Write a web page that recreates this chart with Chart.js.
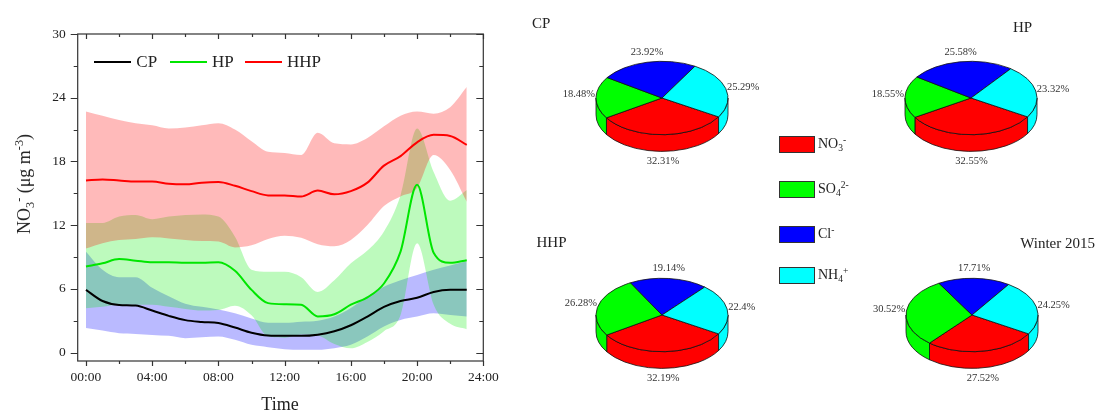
<!DOCTYPE html>
<html>
<head>
<meta charset="utf-8">
<script src="https://cdn.jsdelivr.net/npm/chart.js@4.4.1/dist/chart.umd.min.js"></script>
<style>
  html, body { margin: 0; padding: 0; background: #fff; }
  body { width: 1096px; height: 410px; position: relative; overflow: hidden;
         font-family: "Liberation Serif", "Times New Roman", serif; color: #222; }
  canvas { position: absolute; }
  .abs { position: absolute; white-space: nowrap; line-height: 1; }
  .sb { font-size: 68%; position: relative; top: 0.32em; }
  .sp { font-size: 68%; position: relative; top: -0.55em; }
  .lg-item { position: absolute; display: flex; align-items: center; font-size: 17px; }
  .lg-line { width: 37px; height: 2px; margin-right: 5px; }
  .ion-box { position: absolute; width: 34px; height: 15px; border: 1px solid #333; }
  .ion-txt { position: absolute; font-size: 14px; line-height: 1; white-space: nowrap; }
</style>
</head>
<body>
<canvas id="diurnal" width="520" height="410" style="left:0;top:0"></canvas>
<div id="ytitle" class="abs" style="left:23.5px;top:184px;font-size:18px;transform:translate(-50%,-50%) rotate(-90deg)">NO<span class="sb">3</span><span class="sp">-</span> (μg m<span class="sp">-3</span>)</div>
<div class="abs" style="left:280px;top:404px;font-size:18px;transform:translate(-50%,-50%)">Time</div>
<div id="lineLegend"></div>

<canvas id="pieCP" width="240" height="200" style="left:542px;top:-1.7px"></canvas>
<canvas id="pieHP" width="240" height="200" style="left:851px;top:-1.7px"></canvas>
<canvas id="pieHHP" width="240" height="200" style="left:542px;top:215px"></canvas>
<canvas id="pieW" width="240" height="200" style="left:852px;top:215px"></canvas>

<div class="abs" style="left:532px;top:22.7px;font-size:15px;transform:translateY(-50%)">CP</div>
<div class="abs" style="left:1013px;top:26.7px;font-size:15px;transform:translateY(-50%)">HP</div>
<div class="abs" style="left:536.5px;top:241.7px;font-size:15px;transform:translateY(-50%)">HHP</div>
<div class="abs" style="right:1px;top:243.3px;font-size:15px;transform:translateY(-50%)">Winter 2015</div>
<div id="ionLegend"></div>

<script>
// ---- diurnal NO3- concentrations (μg m-3), hourly ----
const hours = [0, 1, 2, 3, 4, 5, 6, 7, 8, 9, 10, 11, 12, 13, 14, 15, 16, 17, 18, 19, 20, 21, 22, 23];

const cpMean  = [5.9, 4.85, 4.48, 4.42, 3.95, 3.45, 3.05, 2.88, 2.78, 2.35, 1.86, 1.6, 1.57, 1.57, 1.68, 2.0, 2.57, 3.39, 4.3, 4.85, 5.15, 5.7, 5.9, 5.9];
const cpUpper = [9.5, 7.8, 7.1, 7.1, 6.1, 5.3, 4.6, 4.3, 4.05, 3.7, 3.2, 2.8, 2.8, 2.9, 3.0, 3.4, 4.2, 5.3, 6.2, 6.8, 7.3, 7.8, 8.2, 8.6];
const cpLower = [2.3, 2.07, 1.82, 1.75, 1.66, 1.57, 1.35, 1.44, 1.5, 1.19, 0.72, 0.5, 0.31, 0.25, 0.25, 0.4, 0.72, 1.5, 2.45, 3.07, 3.39, 3.7, 3.54, 3.39];

const hpMean  = [8.1, 8.4, 8.8, 8.65, 8.5, 8.5, 8.45, 8.45, 8.5, 7.7, 5.9, 4.65, 4.55, 4.5, 3.4, 3.6, 4.5, 5.2, 6.5, 9.5, 15.8, 9.4, 8.45, 8.7];
const hpUpper = [12.2, 12.2, 12.8, 12.95, 12.55, 12.8, 12.95, 13.0, 12.8, 10.9, 7.8, 7.6, 7.6, 7.1, 5.7, 6.8, 8.4, 9.6, 11.4, 14.8, 21.1, 17.0, 14.3, 15.3];
const hpLower = [4.17, 4.3, 4.5, 4.5, 4.5, 4.3, 4.1, 3.95, 4.0, 4.4, 3.5, 1.5, 1.4, 1.7, 1.6, 0.8, 0.4, 1.0, 2.0, 3.5, 10.3, 4.5, 2.7, 2.2];

const hhpMean  = [16.2, 16.3, 16.2, 16.1, 16.1, 15.9, 15.85, 16.0, 16.05, 15.7, 15.2, 14.8, 14.8, 14.7, 15.25, 14.9, 15.2, 16.0, 17.6, 18.5, 19.8, 20.5, 20.4, 19.55];
const hhpUpper = [22.7, 22.3, 21.9, 21.6, 21.4, 21.1, 21.2, 21.4, 21.6, 21.0, 19.9, 18.9, 18.8, 18.6, 20.7, 19.7, 19.6, 20.2, 21.3, 22.3, 22.7, 22.5, 23.1, 25.0];
const hhpLower = [9.8, 10.3, 10.6, 10.7, 10.85, 10.75, 10.6, 10.5, 10.45, 9.9, 10.1, 10.7, 11.0, 10.8, 10.2, 10.0, 10.6, 12.0, 13.8, 14.7, 15.5, 18.6, 17.2, 14.2];

const seriesNames = ['CP', 'HP', 'HHP'];
const xTickValues = [0, 2, 4, 6, 8, 10, 12, 14, 16, 18, 20, 22, 24];
const yTickValues = [0, 3, 6, 9, 12, 15, 18, 21, 24, 27, 30];

// ---- water-soluble ion fractions (%) ----
const ions = ['NO3-', 'SO42-', 'Cl-', 'NH4+'];
const ionMarkup = ['NO<span class="sb">3</span><span class="sp">-</span>',
                   'SO<span class="sb">4</span><span class="sp">2-</span>',
                   'Cl<span class="sp">-</span>',
                   'NH<span class="sb">4</span><span class="sp">+</span>'];
const cpShare     = [32.31, 18.48, 23.92, 25.29];
const hpShare     = [32.55, 18.55, 25.58, 23.32];
const hhpShare    = [32.19, 26.28, 19.14, 22.4];
const winterShare = [27.52, 30.52, 17.71, 24.25];

// ---- styling ----
const lineColors = ['#000000', '#00e600', '#ff0000'];
const bandColors = ['rgba(0,0,255,0.27)', 'rgba(0,235,0,0.26)', 'rgba(255,0,0,0.27)'];
const ionColors = ['#ff0000', '#00ff00', '#0000ff', '#00ffff'];
const SERIF = '"Liberation Serif", "Times New Roman", serif';

const pts = arr => hours.map((h, i) => ({ x: h, y: arr[i] }));

function meanSet(i, arr) {
  return { label: seriesNames[i], data: pts(arr), borderColor: lineColors[i], borderWidth: 2,
           pointRadius: 0, fill: false, cubicInterpolationMode: 'monotone', order: 0 };
}
function bandSet(arr, color, target, order) {
  return { label: '', data: pts(arr), borderColor: 'rgba(0,0,0,0)', borderWidth: 0, pointRadius: 0,
           backgroundColor: color, fill: target === null ? false : target,
           cubicInterpolationMode: 'monotone', order: order };
}

// frame and tick marks around the plot area
const frameTicks = {
  id: 'frameTicks',
  afterDatasetsDraw(chart) {
    const { ctx, chartArea: a, scales: { x, y } } = chart;
    ctx.save();
    ctx.strokeStyle = '#333';
    ctx.lineWidth = 1.2;
    ctx.strokeRect(a.left, a.top, a.right - a.left, a.bottom - a.top);
    ctx.beginPath();
    x.ticks.forEach(t => {
      const px = Math.round(x.getPixelForValue(t.value)) + 0.5;
      const L = t.value % 4 === 0 ? 5 : 3;
      ctx.moveTo(px, a.bottom); ctx.lineTo(px, a.bottom + L);
      ctx.moveTo(px, a.top); ctx.lineTo(px, a.top + L);
    });
    y.ticks.forEach(t => {
      const py = Math.round(y.getPixelForValue(t.value)) + 0.5;
      const L = t.value % 6 === 0 ? 7 : 4;
      ctx.moveTo(a.left, py); ctx.lineTo(a.left - L, py);
      ctx.moveTo(a.right, py); ctx.lineTo(a.right - L, py);
    });
    ctx.stroke();
    ctx.restore();
  }
};

new Chart(document.getElementById('diurnal'), {
  type: 'line',
  data: {
    datasets: [
      meanSet(0, cpMean), meanSet(1, hpMean), meanSet(2, hhpMean),
      bandSet(hhpUpper, bandColors[2], 4, 1), bandSet(hhpLower, bandColors[2], null, 1),
      bandSet(hpUpper, bandColors[1], 6, 2), bandSet(hpLower, bandColors[1], null, 2),
      bandSet(cpUpper, bandColors[0], 8, 3), bandSet(cpLower, bandColors[0], null, 3)
    ]
  },
  options: {
    responsive: false, animation: false, devicePixelRatio: 1,
    layout: { padding: { left: 0, top: 34, right: 36.7, bottom: 0 } },
    plugins: { legend: { display: false }, tooltip: { enabled: false } },
    scales: {
      x: {
        type: 'linear', min: -0.5, max: 24,
        afterBuildTicks: s => { s.ticks = xTickValues.map(v => ({ value: v })); },
        afterFit: s => { s.height = 49; },
        grid: { display: false, drawTicks: false }, border: { display: false },
        ticks: { autoSkip: false, maxRotation: 0, padding: 8, color: '#222',
                 font: { family: SERIF, size: 13.5 },
                 callback: v => v % 4 === 0 ? String(v).padStart(2, '0') + ':00' : '' }
      },
      y: {
        type: 'linear', min: -0.8, max: 30,
        afterBuildTicks: s => { s.ticks = yTickValues.map(v => ({ value: v })); },
        afterFit: s => { s.width = 77.7; },
        grid: { display: false, drawTicks: false }, border: { display: false },
        ticks: { autoSkip: false, padding: 12, color: '#222',
                 font: { family: SERIF, size: 13.5 },
                 callback: v => v % 6 === 0 ? String(v) : '' }
      }
    }
  },
  plugins: [frameTicks]
});

// legend for the three periods, inside the plot area
(function () {
  const box = document.getElementById('lineLegend');
  const lefts = [94.3, 170, 245];
  seriesNames.forEach((n, i) => {
    const d = document.createElement('div');
    d.className = 'lg-item';
    d.style.left = lefts[i] + 'px';
    d.style.top = '61.5px';
    d.style.transform = 'translateY(-50%)';
    d.innerHTML = '<span class="lg-line" style="background:' + lineColors[i] + '"></span><span>' + n + '</span>';
    box.appendChild(d);
  });
})();

// legend for the ion colours
(function () {
  const box = document.getElementById('ionLegend');
  const centers = [144, 189, 234, 275];
  ions.forEach((n, i) => {
    const b = document.createElement('div');
    b.className = 'ion-box';
    b.style.left = '779px';
    b.style.top = (centers[i] - 8.5) + 'px';
    b.style.background = ionColors[i];
    box.appendChild(b);
    const t = document.createElement('div');
    t.className = 'ion-txt';
    t.style.left = '818px';
    t.style.top = centers[i] + 'px';
    t.style.transform = 'translateY(-50%)';
    t.innerHTML = ionMarkup[i];
    box.appendChild(t);
  });
})();

// pseudo-3D pie: ellipse top face, extruded front wall, percentage labels
const pie3d = {
  id: 'pie3d',
  beforeDatasetsDraw(chart) {
    const ctx = chart.ctx;
    const arcs = chart.getDatasetMeta(0).data;
    const values = chart.data.datasets[0].data;
    const k = 0.556, depth = 16.7;
    ctx.save();
    ctx.lineWidth = 0.8;
    ctx.strokeStyle = '#111';
    ctx.lineJoin = 'round';
    // front walls
    arcs.forEach(arc => {
      const { x, y, startAngle: s0, endAngle: e0, outerRadius: r } = arc;
      const rx = r, ry = r * k;
      for (let n = -1; n <= 2; n++) {
        const lo = Math.max(s0, n * 2 * Math.PI);
        const hi = Math.min(e0, n * 2 * Math.PI + Math.PI);
        if (hi - lo > 1e-6) {
          ctx.beginPath();
          ctx.ellipse(x, y, rx, ry, 0, lo, hi);
          ctx.lineTo(x + rx * Math.cos(hi), y + ry * Math.sin(hi) + depth);
          ctx.ellipse(x, y + depth, rx, ry, 0, hi, lo, true);
          ctx.closePath();
          ctx.fillStyle = arc.options.backgroundColor;
          ctx.fill();
          ctx.stroke();
        }
      }
    });
    // top faces
    arcs.forEach(arc => {
      const { x, y, startAngle: s0, endAngle: e0, outerRadius: r } = arc;
      ctx.beginPath();
      ctx.moveTo(x, y);
      ctx.ellipse(x, y, r, r * k, 0, s0, e0);
      ctx.closePath();
      ctx.fillStyle = arc.options.backgroundColor;
      ctx.fill();
      ctx.stroke();
    });
    // labels
    ctx.fillStyle = '#333';
    ctx.font = '10.5px ' + SERIF;
    ctx.textBaseline = 'middle';
    arcs.forEach((arc, i) => {
      const { x, y, startAngle: s0, endAngle: e0, outerRadius: r } = arc;
      const m = (s0 + e0) / 2;
      const c = Math.cos(m), s = Math.sin(m);
      const ex = x + r * c, ey = y + r * k * s;
      const txt = values[i] + '%';
      if (c > 0.6) {
        ctx.textAlign = 'left';
        ctx.fillText(txt, ex + 1, ey - 2 + (s > 0 ? depth * s : 0));
      } else if (c < -0.6) {
        ctx.textAlign = 'right';
        ctx.fillText(txt, ex - 1, ey - 3 + (s > 0 ? depth * s : 0));
      } else {
        ctx.textAlign = 'center';
        ctx.fillText(txt, ex, ey + (s > 0 ? depth + 10 : -10));
      }
    });
    ctx.restore();
    return false;
  }
};

function makePie(id, shares) {
  new Chart(document.getElementById(id), {
    type: 'pie',
    data: { labels: ions, datasets: [{ data: shares, backgroundColor: ionColors, borderWidth: 0 }] },
    options: {
      responsive: false, animation: false, devicePixelRatio: 1,
      rotation: 121, radius: 66,
      layout: { padding: { left: 54, right: 54, top: 34, bottom: 34 } },
      plugins: { legend: { display: false }, tooltip: { enabled: false } }
    },
    plugins: [pie3d]
  });
}
makePie('pieCP', cpShare);
makePie('pieHP', hpShare);
makePie('pieHHP', hhpShare);
makePie('pieW', winterShare);
</script>
</body>
</html>
